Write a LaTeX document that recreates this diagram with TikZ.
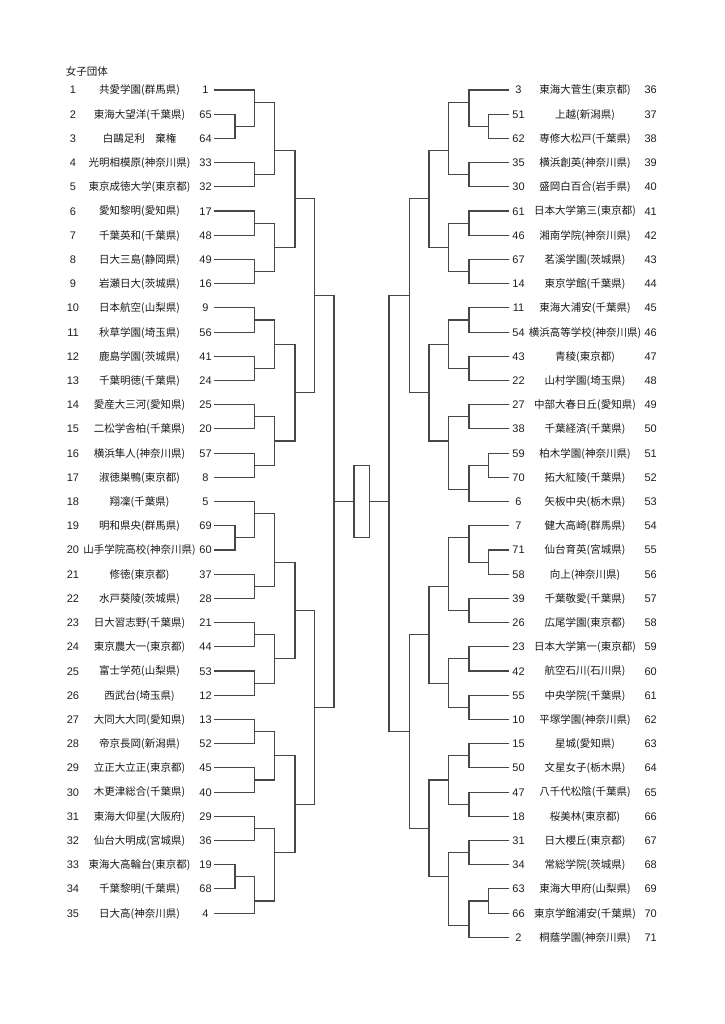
\documentclass[tikz,border=0pt]{standalone}
\usepackage{fontspec}
\setmainfont{Liberation Sans}
\newfontfamily\cjk{Noto Sans CJK JP}
\newcommand\bracketlvl[4]{%
  \foreach \a/\b/\c in {#4}{%
    \coordinate (#1t\c) at (#2,{90+12.105*(\a)});
    \coordinate (#1b\c) at (#2,{90+12.105*(\b)});
    \coordinate (#1j\c) at (#2,{90+12.105*(\c)});
    \coordinate (#1n\c) at (#3,{90+12.105*(\c)});
    \draw[br] (#1t\c) -- (#1b\c);
    \draw[br] (#1j\c) -- (#1n\c);
  }}
\begin{document}
\begin{tikzpicture}[x=1pt,y=-1pt,
  br/.style={draw=black!72,line width=1.1pt,line cap=rect},
  num/.style={font=\fontsize{11}{12}\selectfont,text=black!88,inner sep=0pt,anchor=base},
  tname/.style={font=\cjk\fontsize{10.5}{12}\selectfont,text=black!90,inner sep=0pt,anchor=base},
  finalbox/.style={draw=black!72,line width=1.1pt,minimum width=15.7pt,minimum height=72.6pt,inner sep=0pt}]
\useasboundingbox (0,0) rectangle (724,1024);
\node[tname,anchor=base west] (title) at (65.7,75.6) {女子団体};
% left teams
\foreach \i/\nm/\sd/\lv in {
1/共愛学園(群馬県)/1/254.3,
2/東海大望洋(千葉県)/65/235,
3/白鷗足利　棄権/64/235,
4/光明相模原(神奈川県)/33/254.3,
5/東京成徳大学(東京都)/32/254.3,
6/愛知黎明(愛知県)/17/254.3,
7/千葉英和(千葉県)/48/254.3,
8/日大三島(静岡県)/49/254.3,
9/岩瀬日大(茨城県)/16/254.3,
10/日本航空(山梨県)/9/254.3,
11/秋草学園(埼玉県)/56/254.3,
12/鹿島学園(茨城県)/41/254.3,
13/千葉明徳(千葉県)/24/254.3,
14/愛産大三河(愛知県)/25/254.3,
15/二松学舎柏(千葉県)/20/254.3,
16/横浜隼人(神奈川県)/57/254.3,
17/淑徳巣鴨(東京都)/8/254.3,
18/翔凜(千葉県)/5/254.3,
19/明和県央(群馬県)/69/235,
20/山手学院高校(神奈川県)/60/235,
21/修徳(東京都)/37/254.3,
22/水戸葵陵(茨城県)/28/254.3,
23/日大習志野(千葉県)/21/254.3,
24/東京農大一(東京都)/44/254.3,
25/富士学苑(山梨県)/53/254.3,
26/西武台(埼玉県)/12/254.3,
27/大同大大同(愛知県)/13/254.3,
28/帝京長岡(新潟県)/52/254.3,
29/立正大立正(東京都)/45/254.3,
30/木更津総合(千葉県)/40/254.3,
31/東海大仰星(大阪府)/29/254.3,
32/仙台大明成(宮城県)/36/254.3,
33/東海大高輪台(東京都)/19/235,
34/千葉黎明(千葉県)/68/235,
35/日大高(神奈川県)/4/254.3}{
  \pgfmathsetmacro\yy{90+12.105*2*(\i-1)}
  \node[num] (Lno\i) at (73,{\yy+4}) {\i};
  \node[tname] (Lnm\i) at (139.5,{\yy+3.9}) {\nm};
  \node[num] (Lsd\i) at (205.5,{\yy+4}) {\sd};
  \coordinate (Lstub\i) at (215,\yy);
  \coordinate (Lleaf\i) at (\lv,\yy);
  \draw[br] (Lstub\i) -- (Lleaf\i);
}
% right teams
\foreach \j/\sd/\nm/\lv in {
36/3/東海大菅生(東京都)/469,
37/51/上越(新潟県)/488.7,
38/62/専修大松戸(千葉県)/488.7,
39/35/横浜創英(神奈川県)/469,
40/30/盛岡白百合(岩手県)/469,
41/61/日本大学第三(東京都)/469,
42/46/湘南学院(神奈川県)/469,
43/67/茗溪学園(茨城県)/469,
44/14/東京学館(千葉県)/469,
45/11/東海大浦安(千葉県)/469,
46/54/横浜高等学校(神奈川県)/469,
47/43/青稜(東京都)/469,
48/22/山村学園(埼玉県)/469,
49/27/中部大春日丘(愛知県)/469,
50/38/千葉経済(千葉県)/469,
51/59/柏木学園(神奈川県)/488.7,
52/70/拓大紅陵(千葉県)/488.7,
53/6/矢板中央(栃木県)/469,
54/7/健大高崎(群馬県)/469,
55/71/仙台育英(宮城県)/488.7,
56/58/向上(神奈川県)/488.7,
57/39/千葉敬愛(千葉県)/469,
58/26/広尾学園(東京都)/469,
59/23/日本大学第一(東京都)/469,
60/42/航空石川(石川県)/469,
61/55/中央学院(千葉県)/469,
62/10/平塚学園(神奈川県)/469,
63/15/星城(愛知県)/469,
64/50/文星女子(栃木県)/469,
65/47/八千代松陰(千葉県)/469,
66/18/桜美林(東京都)/469,
67/31/日大櫻丘(東京都)/469,
68/34/常総学院(茨城県)/469,
69/63/東海大甲府(山梨県)/488.7,
70/66/東京学館浦安(千葉県)/488.7,
71/2/桐蔭学園(神奈川県)/469}{
  \pgfmathsetmacro\yy{90+12.105*2*(\j-36)}
  \node[num] (Rsd\j) at (518.5,{\yy+4}) {\sd};
  \node[tname] (Rnm\j) at (585,{\yy+3.9}) {\nm};
  \node[num] (Rno\j) at (650.7,{\yy+4}) {\j};
  \coordinate (Rstub\j) at (508.5,\yy);
  \coordinate (Rleaf\j) at (\lv,\yy);
  \draw[br] (Rstub\j) -- (Rleaf\j);
}
% left bracket
\bracketlvl{LA}{235}{254.3}{2/4/3,36/38/37,64/66/65}
\bracketlvl{LB}{254.3}{274.7}{0/3/1,6/8/7,10/12/11,14/16/15,18/20/19,22/24/23,26/28/27,30/32/31,34/37/35,40/42/41,44/46/45,48/50/49,52/54/53,56/58/57,60/62/61,65/68/67}
\bracketlvl{LC}{274.7}{295}{1/7/5,11/15/13,19/23/21,27/31/29,35/41/39,45/49/47,53/57/55,61/67/63}
\bracketlvl{LD}{295}{314.3}{5/13/9,21/29/25,39/47/43,55/63/59}
\bracketlvl{LE}{314.3}{334}{9/25/17,43/59/51}
% right bracket
\bracketlvl{RA}{488.7}{469}{2/4/3,30/32/31,38/40/39,66/68/67}
\bracketlvl{RB}{469}{448.7}{0/3/1,6/8/7,10/12/11,14/16/15,18/20/19,22/24/23,26/28/27,31/34/33,36/39/37,42/44/43,46/48/47,50/52/51,54/56/55,58/60/59,62/64/63,67/70/69}
\bracketlvl{RC}{448.7}{429}{1/7/5,11/15/13,19/23/21,27/33/29,37/43/41,47/51/49,55/59/57,63/69/65}
\bracketlvl{RD}{429}{409.3}{5/13/9,21/29/25,41/49/45,57/65/61}
\bracketlvl{RE}{409.3}{389}{9/25/17,45/61/53}
% final
\coordinate (LFt) at (334,{90+12.105*17});
\coordinate (LFb) at (334,{90+12.105*51});
\coordinate (LFj) at (334,{90+12.105*34});
\coordinate (RFt) at (389,{90+12.105*17});
\coordinate (RFb) at (389,{90+12.105*53});
\coordinate (RFj) at (389,{90+12.105*34});
\node[finalbox] (final) at (361.85,{90+12.105*34}) {};
\draw[br] (LFt) -- (LFb);
\draw[br] (RFt) -- (RFb);
\draw[br] (LFj) -- (final.west);
\draw[br] (final.east) -- (RFj);
\end{tikzpicture}
\end{document}
